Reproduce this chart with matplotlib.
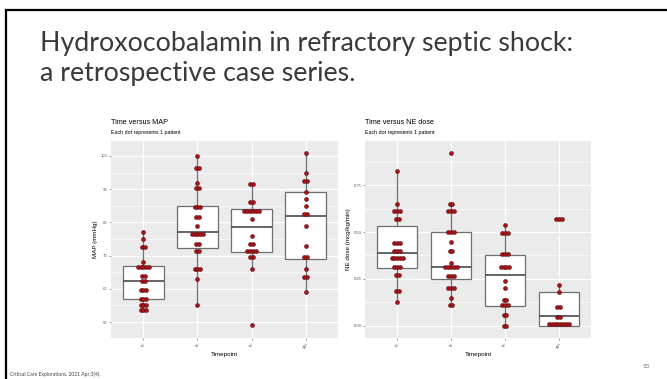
import numpy as np
import matplotlib
matplotlib.use("Agg")
import matplotlib.pyplot as plt
from collections import Counter

# timepoints
timepoints = ["0h", "1h", "6h", "24h"]

# MAP (mmHg), one value per patient
map_0h = [77, 75, 72.5, 72.5, 68, 66.5, 66.5, 66.5, 66.5, 66.5, 64, 64, 62.5, 62.5,
          59.5, 59.5, 59.5, 57, 57, 57, 55, 55, 55, 53.5, 53.5, 53.5]
map_1h = [100, 96.5, 96.5, 92, 90.5, 90.5, 84.5, 84.5, 84.5, 81.5, 81.5, 79,
          76.5, 76.5, 76.5, 76.5, 76.5, 73.5, 73.5, 71.5, 71.5, 66, 66, 66, 63, 55]
map_6h = [91.5, 91.5, 86, 86, 83.5, 83.5, 83.5, 83.5, 83.5, 83.5, 81, 76, 73.5, 73.5,
          71.5, 71.5, 71.5, 71.5, 69.5, 69.5, 66, 49]
map_24h = [101, 95, 92.5, 92.5, 89, 87, 85, 82.5, 82.5, 79, 73, 69.5, 69.5, 66,
           63.5, 63.5, 59]

# MAP box stats
map_lo = [53.5, 55, 66, 59]
map_q1 = [57, 72.3, 71, 69]
map_med = [62.5, 77, 78.5, 82]
map_q3 = [67, 85, 84, 89]
map_hi = [77, 100, 91.5, 101]

# NE dose (mcg/kg/min)
ne_0h = [0.824, 0.649, 0.615, 0.615, 0.615, 0.569, 0.569, 0.442, 0.442, 0.442,
         0.399, 0.399, 0.399, 0.364, 0.364, 0.364, 0.364, 0.364, 0.314, 0.314, 0.314,
         0.269, 0.269, 0.185, 0.185, 0.128]
ne_1h = [0.925, 0.649, 0.649, 0.615, 0.615, 0.615, 0.499, 0.499, 0.499, 0.449,
         0.399, 0.399, 0.335, 0.314, 0.314, 0.314, 0.314, 0.314, 0.264, 0.264, 0.264,
         0.200, 0.200, 0.200, 0.150, 0.111, 0.111]
ne_6h = [0.540, 0.494, 0.494, 0.494, 0.385, 0.385, 0.385, 0.312, 0.312, 0.312, 0.312,
         0.239, 0.200, 0.137, 0.137, 0.111, 0.111, 0.111, 0.055, 0.055, 0.0, 0.0]
ne_24h = [0.569, 0.569, 0.569, 0.219, 0.178, 0.10, 0.10, 0.045, 0.045,
          0.011, 0.011, 0.011, 0.011, 0.011, 0.011, 0.011, 0.011]

ne_lo = [0.128, 0.111, 0.0, 0.0]
ne_q1 = [0.308, 0.25, 0.105, 0.0]
ne_med = [0.389, 0.314, 0.271, 0.052]
ne_q3 = [0.531, 0.499, 0.376, 0.178]
ne_hi = [0.824, 0.649, 0.540, 0.219]

DOT = "#a8141a"
DOTEDGE = "#5c0a0a"
FONT = "Liberation Sans"


def panel(ax, groups, lo, q1, med, q3, hi, ylim, yticks, yminor, ylabels, ylab,
          title, subtitle):
    ax.set_facecolor("#EBEBEB")
    for s in ax.spines.values():
        s.set_visible(False)
    for y in yminor:
        ax.axhline(y, color="white", lw=0.5, zorder=0)
    for y in yticks:
        ax.axhline(y, color="white", lw=0.9, zorder=0)
    for x in range(1, 5):
        ax.axvline(x, color="white", lw=0.9, zorder=0)

    stats = []
    for i in range(4):
        stats.append(dict(whislo=lo[i], q1=q1[i], med=med[i], q3=q3[i],
                          whishi=hi[i], fliers=[]))
    ax.bxp(stats, positions=[1, 2, 3, 4], widths=0.75, patch_artist=True,
           showfliers=False, showcaps=False,
           boxprops=dict(facecolor="white", edgecolor="#6e6e6e", lw=0.9),
           medianprops=dict(color="#4a4a4a", lw=1.2),
           whiskerprops=dict(color="#6e6e6e", lw=0.9), zorder=2)

    dx = 0.052
    for i, vals in enumerate(groups):
        cnt = Counter(vals)
        xs, ys = [], []
        for v, n in cnt.items():
            for k in range(n):
                xs.append(i + 1 + (k - (n - 1) / 2) * dx)
                ys.append(v)
        ax.scatter(xs, ys, s=8, color=DOT, edgecolors=DOTEDGE, linewidths=0.4,
                   zorder=3)

    ax.set_xlim(0.4, 4.6)
    ax.set_ylim(*ylim)
    ax.set_xticks([1, 2, 3, 4])
    ax.set_xticklabels(timepoints, rotation=70, fontsize=3, color="#555555",
                       family=FONT)
    ax.set_yticks(yticks)
    ax.set_yticklabels(ylabels, fontsize=3, color="#555555", family=FONT)
    ax.tick_params(length=1.5, width=0.4, color="#555555", pad=1)
    ax.set_xlabel("Timepoint", fontsize=4.5, family=FONT, labelpad=2)
    ax.set_ylabel(ylab, fontsize=4.5, family=FONT, labelpad=2)
    ax.text(0, 1.095, title, transform=ax.transAxes, fontsize=5.2, family=FONT,
            va="center")
    ax.text(0, 1.045, subtitle, transform=ax.transAxes, fontsize=3.8, family=FONT,
            va="center")


fig = plt.figure(figsize=(6.67, 3.79), dpi=100)
fig.patch.set_facecolor("white")

# slide border (top and left)
fig.add_artist(plt.Line2D([6 / 667, 1], [1 - 10 / 379, 1 - 10 / 379],
                          color="black", lw=1.6))
fig.add_artist(plt.Line2D([6 / 667, 6 / 667], [0, 1 - 10 / 379],
                          color="black", lw=1.6))

fig.text(40 / 667, 1 - 43 / 379, "Hydroxocobalamin in refractory septic shock:",
         fontsize=19.3, family="Lato", va="center", color="#3a3a3a")
fig.text(40 / 667, 1 - 73 / 379, "a retrospective case series.",
         fontsize=19.3, family="Lato", va="center", color="#3a3a3a")

ax1 = fig.add_axes([111 / 667, 1 - 338 / 379, 227 / 667, 197 / 379])
panel(ax1, [map_0h, map_1h, map_6h, map_24h], map_lo, map_q1, map_med, map_q3, map_hi,
      (45.2, 104.5), [50, 60, 70, 80, 90, 100], [55, 65, 75, 85, 95],
      ["50", "60", "70", "80", "90", "100"], "MAP (mmHg)",
      "Time versus MAP", "Each dot represents 1 patient")

ax2 = fig.add_axes([365 / 667, 1 - 338 / 379, 226 / 667, 197 / 379])
panel(ax2, [ne_0h, ne_1h, ne_6h, ne_24h], ne_lo, ne_q1, ne_med, ne_q3, ne_hi,
      (-0.066, 0.987), [0, 0.25, 0.5, 0.75], [0.125, 0.375, 0.625, 0.875],
      ["0.00", "0.25", "0.50", "0.75"], "NE dose (mcg/kg/min)",
      "Time versus NE dose", "Each dot represents 1 patient")

fig.text(10 / 667, 1 - 374 / 379, "Critical Care Explorations. 2021 Apr;3(4).",
         fontsize=3.6, family="Lato", color="#444444", va="center")
fig.text(643 / 667, 1 - 366 / 379, "53", fontsize=4.5, family="Lato",
         color="#777777", va="center")

fig.savefig("out.png", dpi=100)
